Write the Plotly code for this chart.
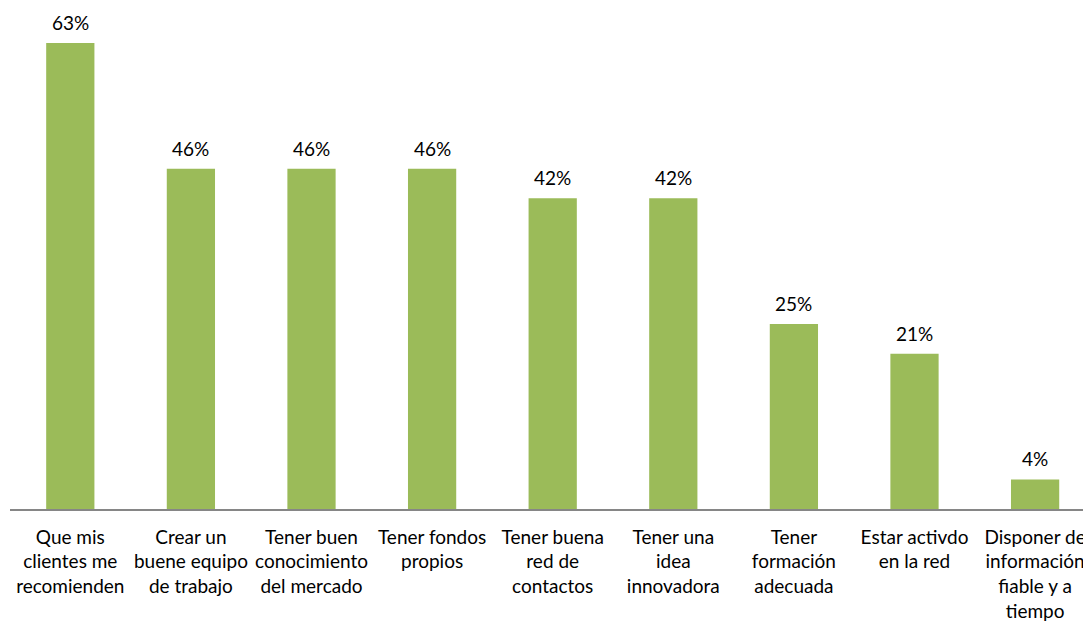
import plotly.graph_objects as go

categories = [
    "Que mis<br>clientes me<br>recomienden",
    "Crear un<br>buene equipo<br>de trabajo",
    "Tener buen<br>conocimiento<br>del mercado",
    "Tener fondos<br>propios",
    "Tener buena<br>red de<br>contactos",
    "Tener una<br>idea<br>innovadora",
    "Tener<br>formación<br>adecuada",
    "Estar activdo<br>en la red",
    "Disponer de<br>información<br>fiable y a<br>tiempo",
]
values = [63, 46, 46, 46, 42, 42, 25, 21, 4]

FONT = "Lato, 'Open Sans', sans-serif"
positions = list(range(len(categories)))

fig = go.Figure(
    go.Bar(
        x=positions,
        y=values,
        marker=dict(color="#9BBB59", line=dict(width=0)),
        hoverinfo="skip",
    )
)

# value labels above each bar
for x, v in zip(positions, values):
    fig.add_annotation(
        x=x, y=v, text=f"{v}%", showarrow=False,
        yanchor="bottom", yshift=7,
        font=dict(family=FONT, size=19, color="#000000"),
    )

fig.update_layout(
    width=1083, height=623,
    margin=dict(l=10, r=0, t=0, b=114),
    paper_bgcolor="white", plot_bgcolor="white",
    bargap=0.6, showlegend=False,
    font=dict(family=FONT, size=19, color="#000000"),
)
fig.update_xaxes(
    tickmode="array", tickvals=positions, ticktext=categories,
    range=[-0.5, -0.5 + 1073 / 120.6],
    showline=True, linecolor="#868686", linewidth=1.5,
    showgrid=False, zeroline=False, ticks="",
    tickangle=0, ticklabelstandoff=10, ticklabeloverflow="allow",
    automargin=False,
)
fig.update_yaxes(
    range=[0, 509 / 7.397], visible=False, showgrid=False, zeroline=False,
    automargin=False,
)

fig.write_html("out.html")
